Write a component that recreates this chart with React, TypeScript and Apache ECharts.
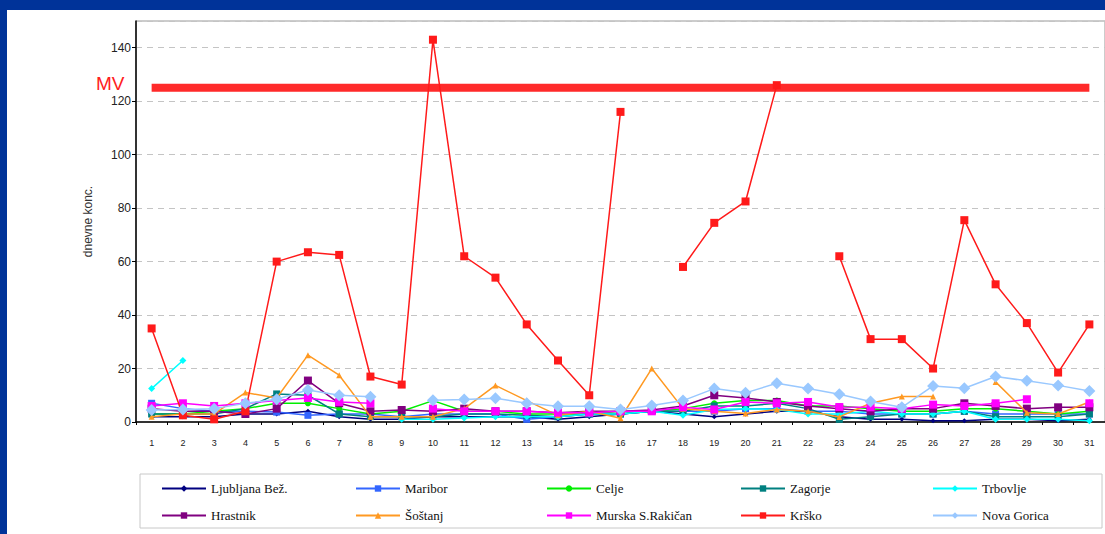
import React, { useEffect, useRef } from "react";
import * as echarts from "echarts";

const days = ["1","2","3","4","5","6","7","8","9","10","11","12","13","14","15","16","17","18","19","20","21","22","23","24","25","26","27","28","29","30","31"];

const ljubljana = [2,2,2,3,3,4,2,1,1,2,2,2,2,1,2,3,4,3,2,3,4,4,2,1,1,0.5,0.5,1,1,0.5,1];
const maribor = [7,5,4,4,3.7,2.5,3,3,2,3,3,3,1,2,3,3,4,4,4,5,5,4,4,3,3,3,4,3,3,3,3];
const celje = [3,3,4,5,7,7,5,3,4,8,4,4,3,3,3,4,4,5,7,8,8,6,6,5,4,4,5,5,4,3,4];
const zagorje = [3,3,3,5,10.5,10,3,2,2,2,3,3,2.5,2,3,3,4,4,6,6,7,5,1,2,3,3,4,2,2,2,3];
const trbovlje = [12.5,23,null,null,null,null,null,null,1,1,1.5,2,2,2,3,3,4,2.5,4.7,5,4.7,3,3,4,3,3,4,1,1,1,0.5];
const hrastnik = [5,4,4,3,5,15.5,7,4,4.5,4,5,4,4,3.5,4,4,4.5,6,10,9,7.5,6,5,4,5,5,7,6,5,5.5,5.5];
const sostanj = [2,3,3,11,9,25,17.5,2,2,2,5,13.7,8,2.5,4,1.4,20,5,4,3.2,4.7,4,1.9,7,9.5,9.5,null,15,3.5,3,7.5];
const murska = [6,7,6,7,8,9,7.5,7,null,5,4,4,4,3.5,3.5,4,4,5.5,4.7,7.5,7,7.5,5.6,5.5,5,6.5,6,7,8.5,null,7];
const krsko = [35,2.5,1,4,60,63.5,62.5,17,14,143,62,54,36.5,23,10,116,null,58,74.5,82.5,126,null,62,31,31,20,75.5,51.5,37,18.5,36.5];
const novaGorica = [4.5,4.7,5,7,8.5,12,10,9.4,null,8.1,8.4,8.9,7,5.9,5.9,4.7,6.2,8,12.5,10.9,14.5,12.5,10.4,7.7,5.5,13.5,12.6,17,15.4,13.7,11.6];
const mvLimit = [125,125,125,125,125,125,125,125,125,125,125,125,125,125,125,125,125,125,125,125,125,125,125,125,125,125,125,125,125,125,125];

const seriesNames = ["Ljubljana Bež.","Maribor","Celje","Zagorje","Trbovlje","Hrastnik","Šoštanj","Murska S.Rakičan","Krško","Nova Gorica"];

export default function App() {
  const ref = useRef<HTMLDivElement>(null);
  useEffect(() => {
    if (!ref.current) return;
    const chart = echarts.init(ref.current, undefined, { renderer: "svg" });
    const defs = [
      { name: seriesNames[0], data: ljubljana, color: "#000080", symbol: "diamond", size: 5 },
      { name: seriesNames[1], data: maribor, color: "#3366ff", symbol: "rect", size: 7 },
      { name: seriesNames[2], data: celje, color: "#00ee00", symbol: "circle", size: 6 },
      { name: seriesNames[3], data: zagorje, color: "#008080", symbol: "rect", size: 7 },
      { name: seriesNames[4], data: trbovlje, color: "#00ffff", symbol: "diamond", size: 7 },
      { name: seriesNames[5], data: hrastnik, color: "#800080", symbol: "rect", size: 8 },
      { name: seriesNames[6], data: sostanj, color: "#ff9922", symbol: "triangle", size: 6 },
      { name: seriesNames[7], data: murska, color: "#ff00ff", symbol: "rect", size: 8 },
      { name: seriesNames[8], data: krsko, color: "#ff1a1a", symbol: "rect", size: 8 },
      { name: seriesNames[9], data: novaGorica, color: "#99c8ff", symbol: "diamond", size: 12 },
    ];
    const series: any[] = [
      {
        name: "MV",
        type: "line",
        data: mvLimit,
        symbol: "none",
        lineStyle: { color: "#ff2a2a", width: 8 },
        z: 1,
      },
      ...defs.map((d, i) => ({
        name: d.name,
        type: "line",
        data: d.data,
        connectNulls: false,
        symbol: d.symbol,
        symbolSize: d.size,
        itemStyle: { color: d.color },
        lineStyle: { color: d.color, width: 1.5 },
        z: 3 + i,
      })),
    ];
    const colX = [161, 355, 546, 740, 932];
    const rowY = [482, 509];
    const legends = seriesNames.map((n, i) => ({
      data: [n],
      left: colX[i % 5],
      top: rowY[Math.floor(i / 5)],
      orient: "horizontal",
      padding: 0,
      itemWidth: 44,
      itemHeight: 8,
      itemGap: 4,
      textStyle: { fontFamily: "Liberation Serif", fontSize: 13, color: "#111" },
      selectedMode: false,
    }));
    chart.setOption({
      animation: false,
      backgroundColor: "#003399",
      graphic: [
        { type: "rect", shape: { x: 7, y: 10, width: 1098, height: 524 }, style: { fill: "#ffffff" }, z: -10 },
        { type: "rect", shape: { x: 140, y: 474, width: 962, height: 54 }, style: { fill: "none", stroke: "#c8c8c8", lineWidth: 1 }, z: -5 },
        { type: "text", x: 96, y: 74, style: { text: "MV", fill: "#ff2020", font: "19px Liberation Sans" } },
      ],
      legend: legends,
      grid: { left: 136, top: 21, width: 970, height: 401, show: true, borderColor: "#999", borderWidth: 1, backgroundColor: "transparent" },
      xAxis: {
        type: "category",
        data: days,
        boundaryGap: true,
        axisLine: { lineStyle: { color: "#000", width: 1.5 } },
        axisTick: { show: true, length: 3, lineStyle: { color: "#000" } },
        axisLabel: { fontSize: 9, color: "#222", fontFamily: "Liberation Sans", margin: 16 },
        splitLine: { show: false },
      },
      yAxis: {
        type: "value",
        min: 0,
        max: 150,
        interval: 20,
        name: "dnevne konc.",
        nameLocation: "middle",
        nameGap: 42,
        nameTextStyle: { fontSize: 12, color: "#333", fontFamily: "Liberation Sans" },
        axisLine: { show: true, lineStyle: { color: "#000", width: 1.5 } },
        axisTick: { show: true, length: 4, lineStyle: { color: "#000" } },
        axisLabel: { fontSize: 12, color: "#222", fontFamily: "Liberation Sans", showMaxLabel: false, margin: 5 },
        splitLine: { show: true, lineStyle: { color: "#c4c4c4", type: [6, 5], width: 1 } },
      },
      series,
    });
    return () => chart.dispose();
  }, []);
  return (
    <div style={{ position: "fixed", left: 0, top: 0, width: 1105, height: 534 }}>
      <div ref={ref} style={{ width: 1105, height: 534 }} />
    </div>
  );
}
